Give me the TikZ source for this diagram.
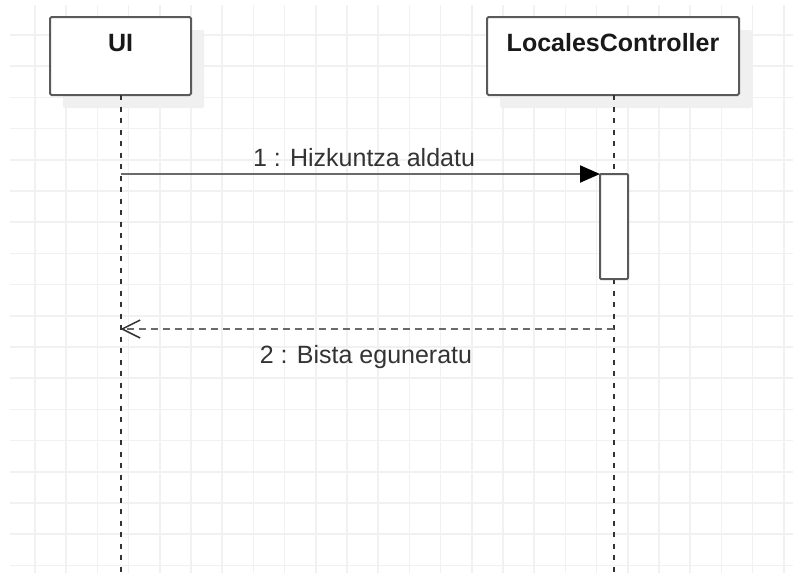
\documentclass[tikz,border=0pt]{standalone}
\usepackage{fontspec}
\setmainfont{Liberation Sans}
\usetikzlibrary{arrows.meta,shadows}
\definecolor{gridc}{HTML}{F1F1F1}
\definecolor{shadowc}{HTML}{F0F0F0}
\definecolor{framec}{HTML}{5A5A5A}
\definecolor{msgc}{HTML}{6A6A6A}
\definecolor{lifec}{HTML}{333333}
\definecolor{labelc}{HTML}{333333}
\tikzset{
  gridline/.style={draw=gridc, line width=1.5pt},
  actor/.style={draw=framec, fill=white, line width=2pt, rounded corners=1.5pt,
    inner sep=0pt, outer sep=0pt,
    drop shadow={shadow xshift=13pt, shadow yshift=-13pt, fill=shadowc, opacity=1}},
  actortitle/.style={font=\fontsize{25pt}{28pt}\selectfont\bfseries, text=black!90, anchor=base, inner sep=0pt},
  lifeline/.style={draw=lifec, line width=2pt, dash pattern=on 5pt off 6.5pt},
  activation/.style={draw=framec, fill=white, line width=2pt, rounded corners=1pt,
    inner sep=0pt, outer sep=0pt, minimum width=28pt, minimum height=105pt},
  callmsg/.style={draw=msgc, line width=2pt, -{Triangle[length=20pt,width=17pt,black]}},
  replymsg/.style={draw=msgc, line width=2pt, dash pattern=on 6.5pt off 5.5pt,
    -{Straight Barb[length=18pt,width=18pt,line width=1.5pt,lifec]}},
  msglabel/.style={font=\fontsize{25pt}{28pt}\selectfont, text=labelc, anchor=base, inner sep=0pt},
}
\begin{document}
\begin{tikzpicture}[x=1pt,y=-1pt]
\useasboundingbox (0,0) rectangle (793,573);

% background grid
\begin{scope}
  \clip (10,5) rectangle (793,573);
  \foreach \i in {0,...,24} \draw[gridline] ({35+31.2*\i},5) -- ({35+31.2*\i},573);
  \foreach \j in {0,...,17} \draw[gridline] (10,{35+31.2*\j}) -- (793,{35+31.2*\j});
\end{scope}

% participants
\node[actor, minimum width=141pt, minimum height=78pt] (ui) at (120.5,56) {};
\node[actor, minimum width=252pt, minimum height=78pt] (lc) at (613,56) {};
\node[actortitle] (uititle) at (120.5,51) {UI};
\node[actortitle] (lctitle) at (613,51) {LocalesController};

% lifelines
\coordinate (uiend) at (120.5,573);
\coordinate (lcend) at (613.5,573);
\draw[lifeline] (ui.south) -- (uiend);
\draw[lifeline] (lc.south -| lcend) -- (lcend);

% activation bar
\node[activation] (act) at (614,226.5) {};

% messages
\coordinate (m1start) at (120.5,174);
\draw[callmsg] (m1start) -- (act.north west);
\node[msglabel] (m1label) at (364,166) {1 : Hizkuntza aldatu};

\coordinate (m2start) at (613.5,329);
\coordinate (m2end) at (120.5,329);
\draw[replymsg] (m2start) -- (m2end);
\node[msglabel] (m2label) at (366,363) {2 : Bista eguneratu};
\end{tikzpicture}
\end{document}
